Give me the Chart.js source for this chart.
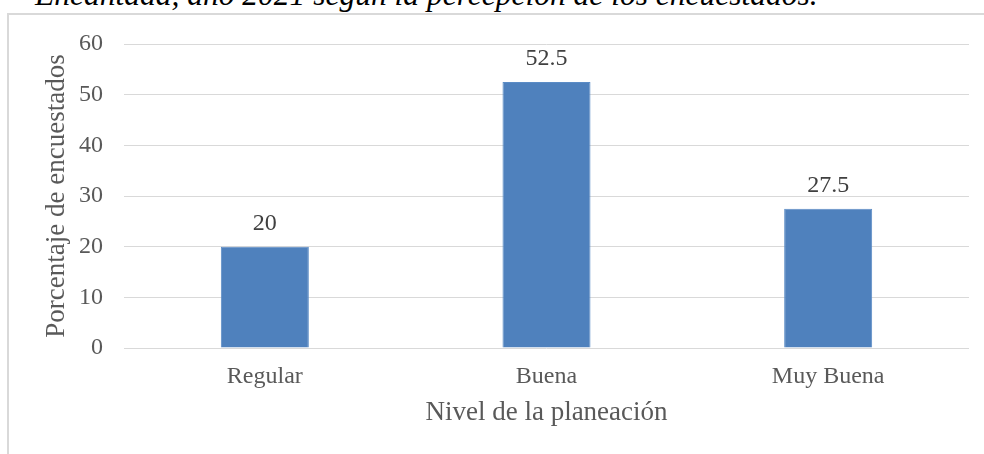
<!DOCTYPE html>
<html>
<head>
<meta charset="utf-8">
<script src="https://cdn.jsdelivr.net/npm/chart.js@4"></script>
<style>
  html, body { margin: 0; padding: 0; background: #fff; overflow: hidden; }
  body { width: 984px; height: 454px; position: relative; }
  #caption {
    position: absolute; left: 35px; top: -24px; white-space: nowrap;
    font-family: "Liberation Serif", "Times New Roman", serif;
    font-style: italic; font-size: 31.5px; line-height: 38px; color: #000;
  }
  #frame {
    position: absolute; left: 7px; top: 13px; width: 1000px; height: 500px;
    border: 2px solid #d9d9d9; box-sizing: border-box;
  }
  #wrap { position: absolute; left: 0; top: 0; width: 984px; height: 454px; }
</style>
</head>
<body>
<div id="caption">Encantada, año 2021 según la percepción de los encuestados.</div>
<div id="frame"></div>
<div id="wrap"><canvas id="chart" width="984" height="454"></canvas></div>
<script>
// Nivel de la planeación vs. porcentaje de encuestados
const categories = ['Regular', 'Buena', 'Muy Buena'];
const percentages = [20, 52.5, 27.5];
const yTicks = [0, 10, 20, 30, 40, 50, 60];

const SERIF = '"Liberation Serif", "Times New Roman", serif';

// Value labels above each bar
const barValueLabels = {
  id: 'barValueLabels',
  afterDatasetsDraw(chart) {
    const ctx = chart.ctx;
    const meta = chart.getDatasetMeta(0);
    const data = chart.data.datasets[0].data;
    ctx.save();
    ctx.font = '24px ' + SERIF;
    ctx.fillStyle = '#404040';
    ctx.textAlign = 'center';
    ctx.textBaseline = 'alphabetic';
    meta.data.forEach((bar, i) => {
      ctx.fillText(String(data[i]), bar.x, bar.y - 17);
    });
    ctx.restore();
  }
};

new Chart(document.getElementById('chart'), {
  type: 'bar',
  data: {
    labels: categories,
    datasets: [{
      data: percentages,
      backgroundColor: '#4f81bd',
      borderColor: '#5b8cc6',
      borderWidth: 1,
      barPercentage: 0.3125,
      categoryPercentage: 1.0
    }]
  },
  options: {
    responsive: false,
    animation: false,
    layout: { padding: { left: 41, top: 44, right: 15, bottom: 25 } },
    plugins: {
      legend: { display: false },
      tooltip: { enabled: false }
    },
    scales: {
      x: {
        grid: { display: false, drawTicks: false },
        border: { display: false },
        ticks: {
          color: '#595959',
          font: { family: SERIF, size: 24 },
          padding: 14,
          maxRotation: 0
        },
        title: {
          display: true,
          text: 'Nivel de la planeación',
          color: '#595959',
          font: { family: SERIF, size: 27 },
          padding: 0
        },
        afterFit(scale) { scale.height = 81; }
      },
      y: {
        min: 0,
        max: 60,
        afterBuildTicks(scale) { scale.ticks = yTicks.map(v => ({ value: v })); },
        grid: { color: '#d9d9d9', lineWidth: 1, drawTicks: false },
        border: { display: false },
        ticks: {
          color: '#595959',
          font: { family: SERIF, size: 24 },
          padding: 21
        },
        title: {
          display: true,
          text: 'Porcentaje de encuestados',
          color: '#595959',
          font: { family: SERIF, size: 27 },
          padding: 0
        },
        afterFit(scale) { scale.width = 83; }
      }
    }
  },
  plugins: [barValueLabels]
});
</script>
</body>
</html>
